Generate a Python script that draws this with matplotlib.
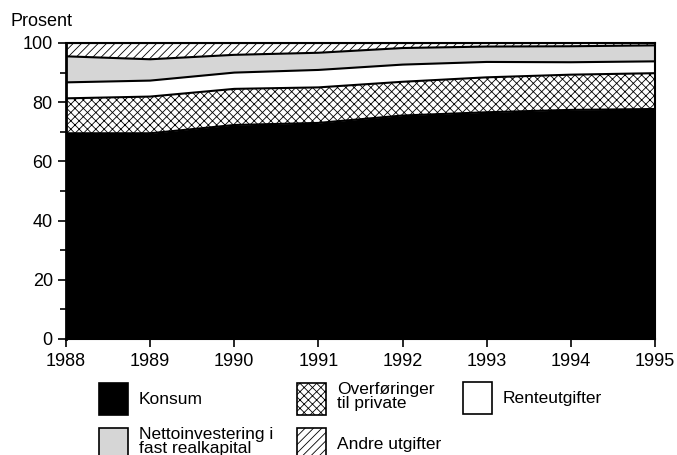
import numpy as np
import matplotlib.pyplot as plt
from matplotlib.patches import Rectangle

plt.rcParams['font.family'] = ['Liberation Sans', 'DejaVu Sans']
plt.rcParams['hatch.linewidth'] = 0.6

years = [1988, 1989, 1990, 1991, 1992, 1993, 1994, 1995]

# andel av samlede utgifter, prosent
konsum = [69.5, 69.5, 72.3, 73.0, 75.5, 76.6, 77.4, 77.7]
overforinger = [11.8, 12.4, 12.2, 12.0, 11.4, 11.8, 11.9, 12.1]
renteutgifter = [5.4, 5.4, 5.5, 5.9, 5.8, 5.2, 4.2, 4.0]
nettoinvestering = [8.8, 7.2, 6.0, 5.8, 5.6, 5.2, 5.4, 5.4]
andre = [4.5, 5.5, 4.0, 3.3, 1.7, 1.2, 1.1, 0.8]

series = [konsum, overforinger, renteutgifter, nettoinvestering, andre]
labels = ['Konsum', 'Overføringer\ntil private', 'Renteutgifter',
          'Nettoinvestering i\nfast realkapital', 'Andre utgifter']
faces = ['black', 'white', 'white', '#d6d6d6', 'white']
hatches = [None, 'xxxx', None, None, '////']

fig = plt.figure(figsize=(6.77, 4.55), dpi=100)
fig.set_facecolor('white')
ax = fig.add_axes([0.0975, 0.255, 0.87, 0.6505])

bottom = np.zeros(len(years))
for vals, fc, h in zip(series, faces, hatches):
    top = bottom + np.array(vals)
    ax.fill_between(years, bottom, top, facecolor=fc, edgecolor='black',
                    hatch=h, linewidth=0)
    ax.plot(years, top, color='black', lw=1.5)
    bottom = top

ax.set_xlim(1988, 1995)
ax.set_ylim(0, 100)
ax.set_xticks(years)
ax.set_yticks(range(0, 101, 20))
ax.set_yticks(range(10, 100, 20), minor=True)
ax.tick_params(axis='both', direction='out', length=6, width=1.2,
               labelsize=13, colors='black')
ax.tick_params(axis='y', which='minor', length=4, width=1.2)
ax.tick_params(axis='x', pad=4)
for sp in ax.spines.values():
    sp.set_linewidth(1.5)
ax.spines['left'].set_linewidth(2)

fig.text(0.015, 0.935, 'Prosent', fontsize=13, va='bottom')

# forklaring (piksler fra øvre venstre hjørne)
W, H = 677, 455
legend_pos = [(99, 383), (297, 383), (463, 382), (99, 428), (297, 428)]
for (px, py), fc, h, lab in zip(legend_pos, faces, hatches, labels):
    fig.patches.append(Rectangle((px / W, 1 - (py + 32) / H), 29 / W, 32 / H,
                                 transform=fig.transFigure, facecolor=fc,
                                 edgecolor='black', hatch=h, lw=1.2))
    if '\n' in lab:
        fig.text((px + 40) / W, 1 - (py - 1) / H, lab, fontsize=12.5,
                 va='top', linespacing=0.9)
    else:
        fig.text((px + 40) / W, 1 - (py + 16) / H, lab, fontsize=12.5,
                 va='center')

fig.savefig('out.png', dpi=100)
